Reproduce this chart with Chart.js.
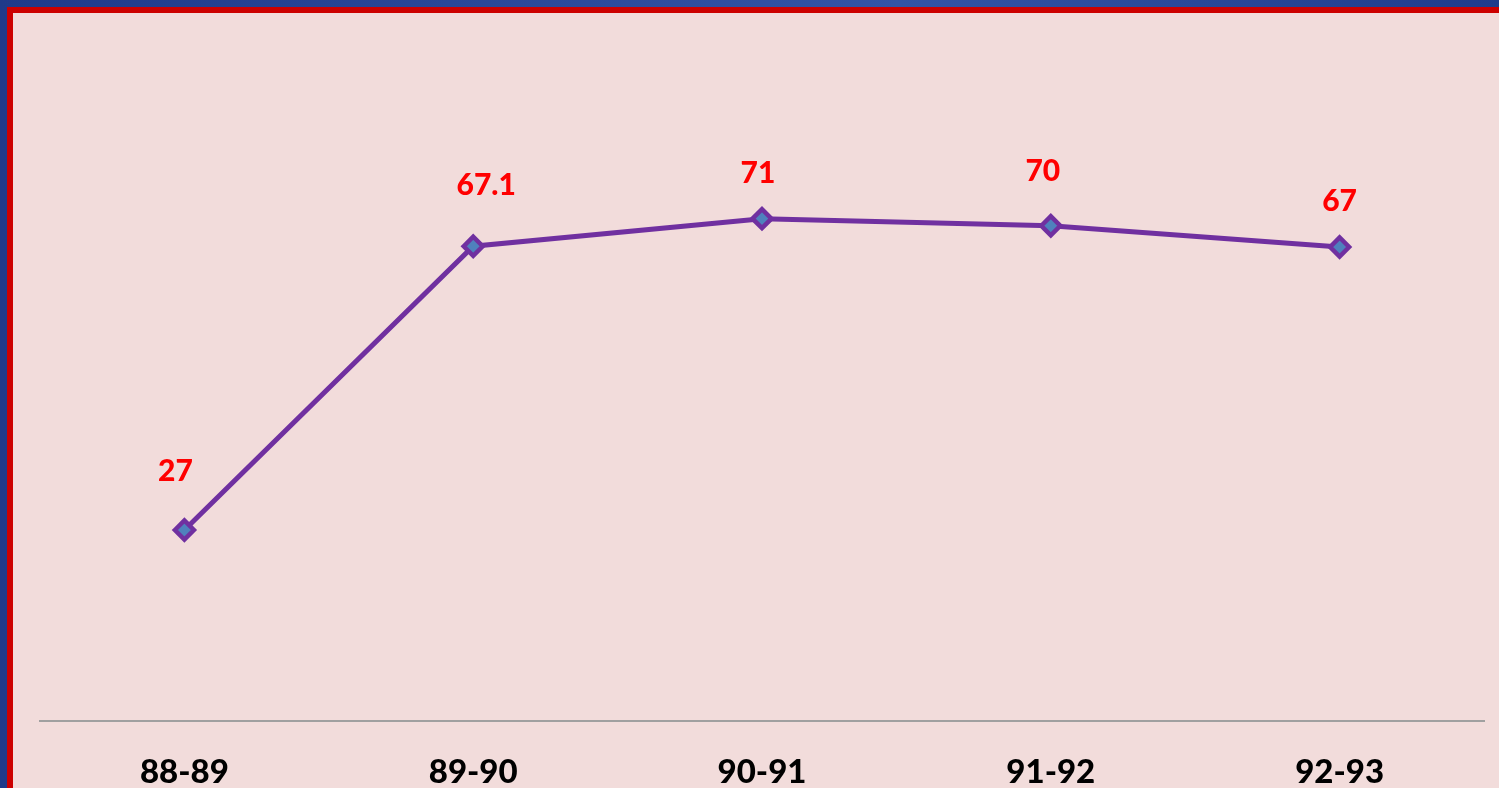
<!DOCTYPE html>
<html>
<head>
<meta charset="utf-8">
<script src="https://cdn.jsdelivr.net/npm/chart.js@4/dist/chart.umd.min.js"></script>
<style>
  html, body { margin: 0; padding: 0; overflow: hidden; }
  body { width: 1499px; height: 788px; background: linear-gradient(90deg, #1f3a8a, #3354a6 60%, #1f3c8c); position: relative; }
  #frame { position: absolute; left: 7px; top: 7px; right: 0; bottom: 0; background: #cc0000; }
  #wrap { position: absolute; left: 13px; top: 13px; width: 1486px; height: 775px; background: #f2dcdb; }
</style>
</head>
<body>
<div id="frame"></div>
<div id="wrap"><canvas id="chart" width="1486" height="775"></canvas></div>
<script>
// datos
var years = ['88-89', '89-90', '90-91', '91-92', '92-93'];
var values = [27, 67.1, 71, 70, 67];
var valueLabels = ['27', '67.1', '71', '70', '67'];
// pequeño ajuste manual de las etiquetas (px)
var labelNudgeX = [-9, 13, -4, -8, 0];
var labelNudgeY = [-59, -61, -45, -54, -46];

var dataLabels = {
    id: 'dataLabels',
    afterDatasetsDraw: function (chart) {
        var ctx = chart.ctx;
        var pts = chart.getDatasetMeta(0).data;
        ctx.save();
        ctx.font = '900 30px Lato';
        ctx.fillStyle = '#ff0000';
        ctx.textAlign = 'center';
        ctx.textBaseline = 'middle';
        pts.forEach(function (p, i) {
            ctx.fillText(valueLabels[i], p.x + labelNudgeX[i], p.y + labelNudgeY[i]);
        });
        ctx.restore();
    }
};

var ctx = document.getElementById('chart').getContext('2d');
var chart = new Chart(ctx, {
    type: 'line',
    data: {
        labels: years,
        datasets: [{
            data: values,
            borderColor: '#7030a0',
            borderWidth: 5,
            pointStyle: 'rectRot',
            pointRadius: 9.5,
            pointBorderWidth: 4.5,
            pointBorderColor: '#7030a0',
            pointBackgroundColor: '#4f81bd',
            tension: 0
        }]
    },
    options: {
        responsive: false,
        animation: false,
        layout: { padding: { left: 27, right: 15, top: 142, bottom: 0 } },
        plugins: { legend: { display: false }, tooltip: { enabled: false } },
        scales: {
            x: {
                offset: true,
                grid: { display: false },
                border: { display: true, color: '#a0a0a0', width: 2 },
                ticks: { color: '#000', padding: 24, font: { family: 'Lato', size: 33, weight: 900 } },
                afterFit: function (scale) { scale.height = 67; }
            },
            y: {
                display: false,
                min: 0,
                max: 80
            }
        }
    },
    plugins: [dataLabels]
});
</script>
</body>
</html>
